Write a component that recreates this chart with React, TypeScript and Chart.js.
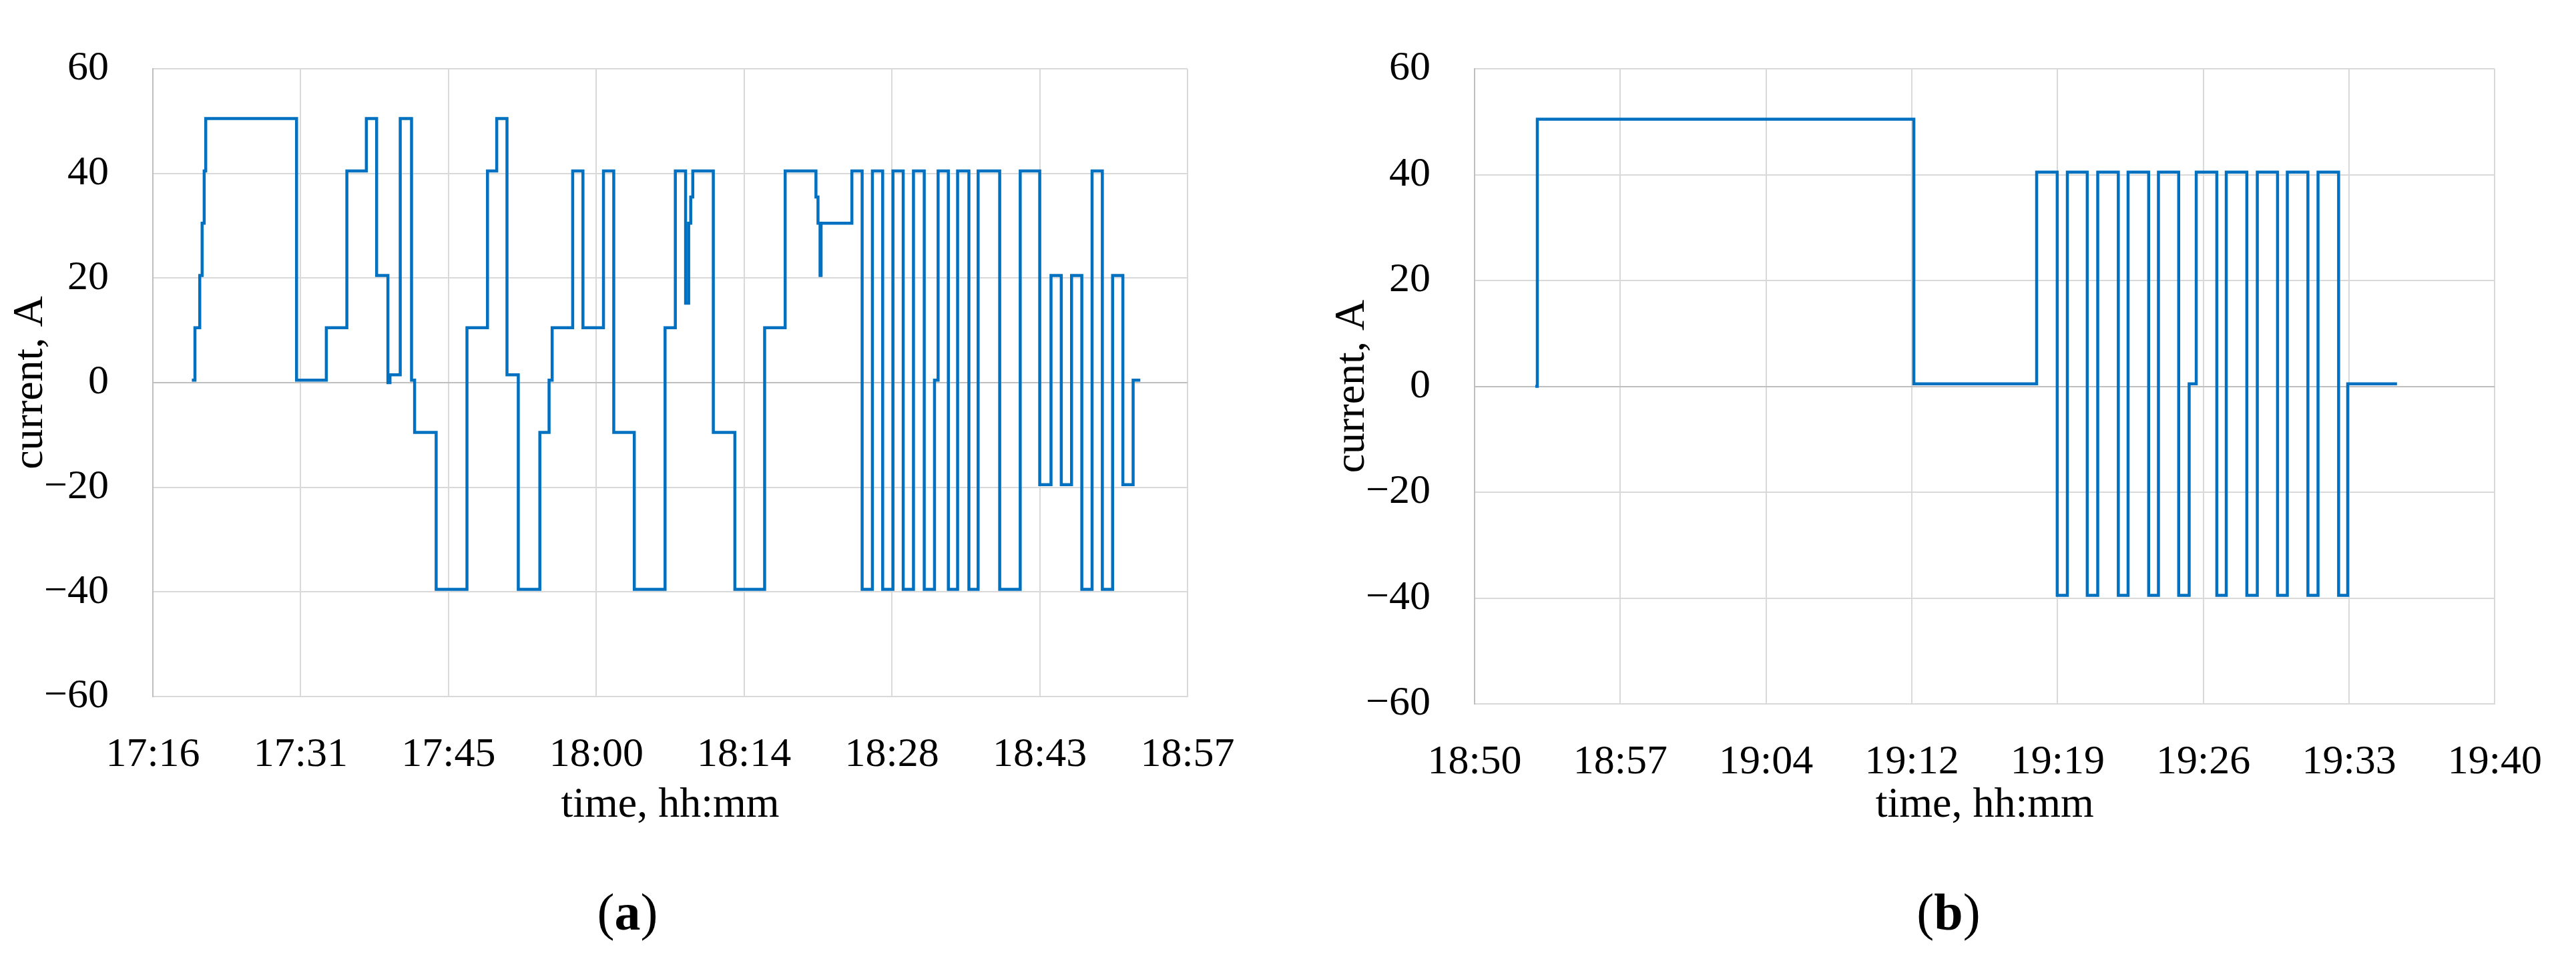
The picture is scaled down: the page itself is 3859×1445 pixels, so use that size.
import React, { useEffect, useRef } from 'react';
import { Chart, registerables } from 'chart.js';

Chart.register(...registerables);

// ---------- data (step starts, hh:mm:ss -> current in A) ----------
const TIME_A = [
  '17:20:36', '17:20:54', '17:21:22', '17:21:36', '17:21:48', '17:21:57',
  '17:30:48', '17:33:42', '17:35:42', '17:37:36', '17:38:36', '17:39:42',
  '17:39:54', '17:40:54', '17:42:00', '17:42:18', '17:44:24', '17:47:24',
  '17:49:24', '17:50:18', '17:51:18', '17:52:24', '17:54:30', '17:55:24',
  '17:55:42', '17:57:42', '17:58:42', '18:00:42', '18:01:42', '18:03:42',
  '18:06:42', '18:07:42', '18:08:42', '18:09:00', '18:09:12', '18:09:24',
  '18:11:24', '18:13:30', '18:16:24', '18:18:24', '18:21:24', '18:21:36',
  '18:21:48', '18:21:54', '18:24:54', '18:25:54', '18:26:54', '18:27:54',
  '18:28:54', '18:29:54', '18:30:54', '18:31:57', '18:32:57', '18:33:18',
  '18:34:18', '18:35:12', '18:36:18', '18:37:12', '18:39:18', '18:41:18',
  '18:43:12', '18:44:18', '18:45:18', '18:46:18', '18:47:18', '18:48:18',
  '18:49:18', '18:50:18', '18:51:18', '18:52:18', '18:53:00',
];
const CURRENT_A = [
  0.5, 10.5, 20.5, 30.5, 40.5, 50.5,
  0.5, 10.5, 40.5, 50.5, 20.5, 0.0,
  1.5, 50.5, 0.5, -9.5, -39.5, 10.5,
  40.5, 50.5, 1.5, -39.5, -9.5, 0.5,
  10.5, 40.5, 10.5, 40.5, -9.5, -39.5,
  10.5, 40.5, 15.2, 30.5, 35.5, 40.5,
  -9.5, -39.5, 10.5, 40.5, 35.5, 30.5,
  20.5, 30.5, 40.5, -39.5, 40.5, -39.5,
  40.5, -39.5, 40.5, -39.5, 0.5, 40.5,
  -39.5, 40.5, -39.5, 40.5, -39.5, 40.5,
  -19.5, 20.5, -19.5, 20.5, -39.5, 40.5,
  -39.5, 20.5, -19.5, 0.5, 0.5,
];

const TIME_B = [
  '18:53:24', '18:53:30', '19:12:06', '19:18:10', '19:19:11', '19:19:41',
  '19:20:40', '19:21:11', '19:22:12', '19:22:41', '19:23:42', '19:24:11',
  '19:25:11', '19:25:42', '19:26:03', '19:27:04', '19:27:32', '19:28:33',
  '19:29:04', '19:30:04', '19:30:33', '19:31:34', '19:32:04', '19:33:05',
  '19:33:32', '19:35:58',
];
const CURRENT_B = [
  0.0, 50.5, 0.5, 40.5, -39.5, 40.5,
  -39.5, 40.5, -39.5, 40.5, -39.5, 40.5,
  -39.5, 0.5, 40.5, -39.5, 40.5, -39.5,
  40.5, -39.5, 40.5, -39.5, 40.5, -39.5,
  0.5, 0.5,
];

// x axes: minutes since midnight (Excel-style even day fractions)
const X_TICK_VALUES_A = [1036.8, 1051.2, 1065.6, 1080, 1094.4, 1108.8, 1123.2, 1137.6];
const X_TICK_LABELS_A = ['17:16', '17:31', '17:45', '18:00', '18:14', '18:28', '18:43', '18:57'];
const X_TICK_VALUES_B = [1130.4, 1137.6, 1144.8, 1152, 1159.2, 1166.4, 1173.6, 1180.8];
const X_TICK_LABELS_B = ['18:50', '18:57', '19:04', '19:12', '19:19', '19:26', '19:33', '19:40'];
const Y_TICK_VALUES = [-60, -40, -20, 0, 20, 40, 60];
const Y_TICK_LABELS = ['\u221260', '\u221240', '\u221220', '0', '20', '40', '60'];

const X_TITLE = 'time, hh:mm';
const Y_TITLE = 'current, A';

// ---------- helpers ----------
const toMinutes = (s: string) => {
  const [h, m, sec] = s.split(':').map(Number);
  return h * 60 + m + sec / 60;
};

const FONT = '"Liberation Serif", "Times New Roman", serif';
const LINE = '#0070C0';
const GRID = '#D9D9D9';
const AXIS = '#BFBFBF';

type PanelProps = {
  left: number;
  width: number;
  times: string[];
  values: number[];
  tickValues: number[];
  tickLabels: string[];
  xAxisHeight: number;
  rightPad: number;
};

function StepPanel(p: PanelProps) {
  const ref = useRef<HTMLCanvasElement | null>(null);
  useEffect(() => {
    if (!ref.current) return;
    const points = p.times.map((t, i) => ({ x: toMinutes(t), y: p.values[i] }));
    const chart = new Chart(ref.current, {
      type: 'line',
      data: {
        datasets: [
          {
            data: points,
            stepped: true,
            borderColor: LINE,
            borderWidth: 4.5,
            pointRadius: 0,
            fill: false,
            borderJoinStyle: 'miter',
            tension: 0,
          } as any,
        ],
      },
      options: {
        animation: false,
        responsive: false,
        events: [],
        layout: { padding: { left: 0, right: p.rightPad, top: 60, bottom: 0 } },
        plugins: { legend: { display: false }, tooltip: { enabled: false } },
        scales: {
          x: {
            type: 'linear',
            min: p.tickValues[0],
            max: p.tickValues[p.tickValues.length - 1],
            afterBuildTicks: (s: any) => {
              s.ticks = p.tickValues.map((v) => ({ value: v }));
            },
            afterFit: (s: any) => {
              s.height = p.xAxisHeight;
            },
            ticks: {
              callback: (_v: any, i: number) => p.tickLabels[i],
              font: { family: FONT, size: 62 },
              color: '#000',
              padding: 51,
              maxRotation: 0,
              autoSkip: false,
            },
            grid: {
              color: (c: any) => (c.index === 0 ? 'rgba(0,0,0,0)' : GRID),
              lineWidth: 2,
              drawTicks: false,
            },
            border: { color: GRID, width: 2 },
            title: {
              display: true,
              text: X_TITLE,
              font: { family: FONT, size: 64 },
              color: '#000',
              padding: { top: 0, bottom: 200 },
            },
          },
          y: {
            type: 'linear',
            min: -60,
            max: 60,
            afterBuildTicks: (s: any) => {
              s.ticks = Y_TICK_VALUES.map((v) => ({ value: v }));
            },
            afterFit: (s: any) => {
              s.width = 229;
            },
            ticks: {
              callback: (_v: any, i: number) => Y_TICK_LABELS[i],
              font: { family: FONT, size: 62 },
              color: '#000',
              padding: 66,
            },
            grid: {
              color: (c: any) => (c.tick && c.tick.value === 0 ? AXIS : GRID),
              lineWidth: 2,
              drawTicks: false,
            },
            border: { color: AXIS, width: 2 },
            title: {
              display: true,
              text: Y_TITLE,
              font: { family: FONT, size: 64 },
              color: '#000',
              padding: { top: 8, bottom: 0 },
            },
          },
        },
      } as any,
    });
    return () => chart.destroy();
  }, []);
  return (
    <canvas
      ref={ref}
      width={p.width}
      height={1445}
      style={{ position: 'absolute', left: p.left, top: 0, width: p.width, height: 1445 }}
    />
  );
}

function SubLabel({ letter, center }: { letter: string; center: number }) {
  return (
    <div
      style={{
        position: 'absolute',
        left: center - 150,
        width: 300,
        top: 1327,
        height: 78,
        lineHeight: '78px',
        fontSize: 78,
        fontFamily: FONT,
        textAlign: 'center',
        color: '#000',
      }}
    >
      (<b>{letter}</b>)
    </div>
  );
}

export default function App() {
  return (
    <div
      style={{
        position: 'absolute',
        left: 0,
        top: 0,
        width: 3859,
        height: 1445,
        background: '#fff',
        overflow: 'hidden',
      }}
    >
      <StepPanel
        left={0}
        width={1960}
        times={TIME_A}
        values={CURRENT_A}
        tickValues={X_TICK_VALUES_A}
        tickLabels={X_TICK_LABELS_A}
        xAxisHeight={402}
        rightPad={181}
      />
      <StepPanel
        left={1980}
        width={1879}
        times={TIME_B}
        values={CURRENT_B}
        tickValues={X_TICK_VALUES_B}
        tickLabels={X_TICK_LABELS_B}
        xAxisHeight={391}
        rightPad={101}
      />
      <SubLabel letter="a" center={940} />
      <SubLabel letter="b" center={2919} />
    </div>
  );
}
